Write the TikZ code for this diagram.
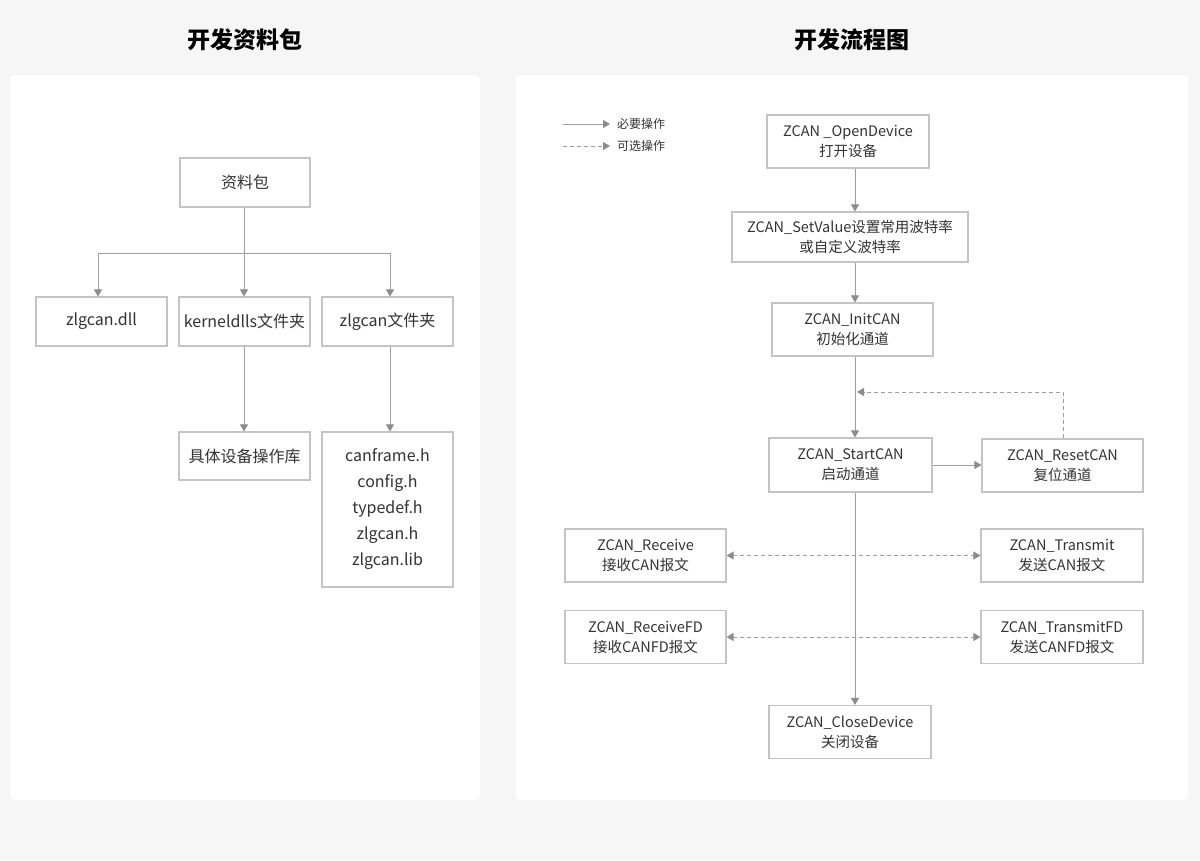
\documentclass[tikz,border=0pt]{standalone}
\usepackage{fontspec}
\setmainfont{Noto Sans CJK SC}
\usetikzlibrary{arrows.meta}
\definecolor{bgc}{HTML}{F6F6F6}
\definecolor{boxc}{HTML}{C4C4C4}
\definecolor{linec}{HTML}{9E9E9E}
\definecolor{tipc}{HTML}{8C8C8C}
\definecolor{txtc}{HTML}{333333}
\tikzset{
  panel/.style={fill=white, draw=none, rounded corners=4pt},
  lbox/.style={draw=boxc, line width=1.2pt, fill=white, text=txtc, inner sep=0pt, align=center,
    font=\fontsize{16}{26}\selectfont, minimum width=131pt, minimum height=49pt},
  rbox/.style={draw=boxc, line width=1.2pt, fill=white, text=txtc, inner sep=0pt, align=center,
    font=\fontsize{14.5}{20}\selectfont, minimum width=162pt, minimum height=53pt},
  conn/.style={draw=linec, line width=1pt, -{Triangle[length=7pt,width=8pt,color=tipc]}},
  plain/.style={draw=linec, line width=1pt},
  opt/.style={draw=linec, line width=1pt, dash pattern=on 4pt off 3pt},
  optarr/.style={opt, -{Triangle[length=7pt,width=8pt,color=tipc]}},
  optboth/.style={opt, {Triangle[length=7pt,width=8pt,color=tipc]}-{Triangle[length=7pt,width=8pt,color=tipc]}},
  ttl/.style={font=\fontsize{23}{26}\selectfont\bfseries, text=black},
  leg/.style={font=\fontsize{12}{14}\selectfont, text=txtc, anchor=west, inner sep=0pt}
}
\begin{document}
\begin{tikzpicture}[x=1pt,y=-1pt]
\fill[bgc] (0,0) rectangle (1200,860);
\useasboundingbox (0,0) rectangle (1200,860);
% panels
\fill[black!4] (9,74) rectangle (481,801);
\fill[black!4] (515,74) rectangle (1189,801);
\path[panel] (10,75) rectangle (480,800);
\path[panel] (516,75) rectangle (1188,800);
% titles
\node[ttl] (t1) at (245,40) {开发资料包};
\node[ttl] (t2) at (852,40) {开发流程图};

% ---------- left tree ----------
\node[lbox, minimum width=130pt] (pkg) at (245,182.5) {资料包};
\node[lbox] (dll) at (101.5,321.5) {zlgcan.dll};
\node[lbox] (kern) at (244.5,321.5) {kerneldlls文件夹};
\node[lbox] (zfold) at (387.5,321.5) {zlgcan文件夹};
\node[lbox, minimum height=48pt] (lib) at (244.5,456) {具体设备操作库};
\node[lbox, minimum height=155pt] (files) at (387.5,509.5) {canframe.h\\config.h\\typedef.h\\zlgcan.h\\zlgcan.lib};

\coordinate (jM) at (244,253);
\coordinate (jL) at (98,253);
\coordinate (jR) at (390,253);
\draw[plain] (pkg.south -| jM) -- (jM);
\draw[plain] (jL) -- (jR);
\draw[conn] (jL) -- (jL |- dll.north);
\draw[conn] (jM) -- (jM |- kern.north);
\draw[conn] (jR) -- (jR |- zfold.north);
\draw[conn] (kern.south -| jM) -- (jM |- lib.north);
\draw[conn] (zfold.south -| jR) -- (jR |- files.north);

% ---------- right flow ----------
\coordinate (legA1) at (563,124);
\coordinate (legA2) at (610,124);
\coordinate (legB1) at (563,146);
\coordinate (legB2) at (610,146);
\draw[conn] (legA1) -- (legA2);
\draw[optarr] (legB1) -- (legB2);
\node[leg] (legA) at (617,124) {必要操作};
\node[leg] (legB) at (617,146) {可选操作};

\node[rbox] (open) at (848,141.5) {ZCAN \_OpenDevice\\打开设备};
\node[rbox, minimum width=236pt, minimum height=50pt] (setv) at (850,237) {ZCAN\_SetValue设置常用波特率\\或自定义波特率};
\node[rbox, minimum width=161pt] (init) at (852.5,329.5) {ZCAN\_InitCAN\\初始化通道};
\node[rbox, minimum width=163pt, minimum height=54pt] (start) at (850.5,465) {ZCAN\_StartCAN\\启动通道};
\node[rbox, minimum width=161pt] (reset) at (1062.5,465.5) {ZCAN\_ResetCAN\\复位通道};
\node[rbox, minimum width=161pt] (recv) at (645.5,555.5) {ZCAN\_Receive\\接收CAN报文};
\node[rbox] (trans) at (1062,555.5) {ZCAN\_Transmit\\发送CAN报文};
\node[rbox, minimum width=161pt] (recvfd) at (645.5,637) {ZCAN\_ReceiveFD\\接收CANFD报文};
\node[rbox] (transfd) at (1062,637) {ZCAN\_TransmitFD\\发送CANFD报文};
\node[rbox] (close) at (850,732) {ZCAN\_CloseDevice\\关闭设备};

\coordinate (vx) at (855,0);
\coordinate (loopR) at (1063,392);
\coordinate (loopL) at (857,392);
\draw[conn] (open.south -| vx) -- (vx |- setv.north);
\draw[conn] (setv.south -| vx) -- (vx |- init.north);
\draw[conn] (init.south -| vx) -- (vx |- start.north);
\draw[conn] (start.south -| vx) -- (vx |- close.north);
\draw[conn] (start.east) -- (start.east -| reset.west);
\draw[optarr] (reset.north -| loopR) -- (loopR) -- (loopL);
\draw[optboth] (recv.east) -- (trans.west);
\draw[optboth] (recvfd.east) -- (transfd.west);
\end{tikzpicture}
\end{document}
